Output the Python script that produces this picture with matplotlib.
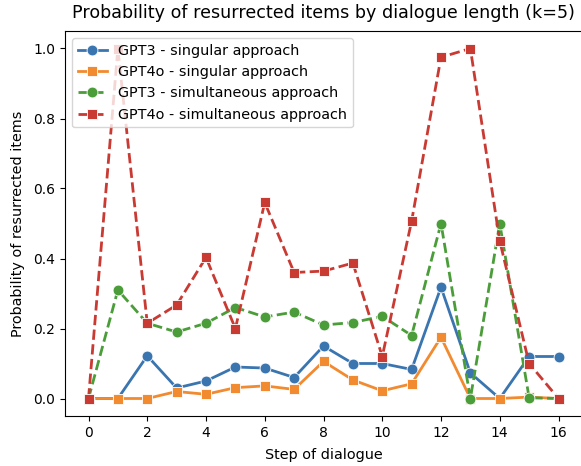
import numpy as np
import matplotlib
matplotlib.use("Agg")
import matplotlib.pyplot as plt

steps = list(range(17))
gpt3_singular = [0, 0, 0.122, 0.03, 0.05, 0.09, 0.087, 0.06, 0.15, 0.1, 0.1, 0.083, 0.318, 0.073, 0, 0.12, 0.12]
gpt4o_singular = [0, 0, 0, 0.02, 0.012, 0.031, 0.036, 0.026, 0.106, 0.053, 0.022, 0.042, 0.175, 0, 0, 0.004, 0]
gpt3_simultaneous = [0, 0.31, 0.215, 0.19, 0.215, 0.26, 0.233, 0.247, 0.21, 0.217, 0.235, 0.18, 0.5, 0, 0.5, 0.002, 0]
gpt4o_simultaneous = [0, 1.0, 0.215, 0.267, 0.403, 0.2, 0.56, 0.36, 0.364, 0.387, 0.12, 0.507, 0.975, 1.0, 0.45, 0.1, 0]

series = [
    ("GPT3 - singular approach", gpt3_singular, "#3a75b0", "o", "-"),
    ("GPT4o - singular approach", gpt4o_singular, "#f28a30", "s", "-"),
    ("GPT3 - simultaneous approach", gpt3_simultaneous, "#4b9d3a", "o", "--"),
    ("GPT4o - simultaneous approach", gpt4o_simultaneous, "#c93a33", "s", "--"),
]

fig = plt.figure(figsize=(5.81, 4.66), dpi=100)
# right spine sits just past the image edge in the reference
ax = fig.add_axes([65 / 581, 1 - 416 / 466, 517 / 581, 385 / 466])
for label, vals, color, marker, ls in series:
    ax.plot(steps, vals, ls, color=color, marker=marker, markersize=7.8, linewidth=2,
            markeredgecolor="white", markeredgewidth=0.6, label=label)

ax.set_xticks(range(0, 17, 2))
ax.tick_params(labelsize=10)
ax.set_title("Probability of resurrected items by dialogue length (k=5)", fontsize=12.6, pad=9)
ax.set_xlabel("Step of dialogue", fontsize=10.4, labelpad=6)
ax.set_ylabel("Probability of resurrected items", fontsize=10.4, labelpad=6)
ax.legend(loc="upper left", fontsize=10.4)
fig.savefig("out.png", dpi=100)
